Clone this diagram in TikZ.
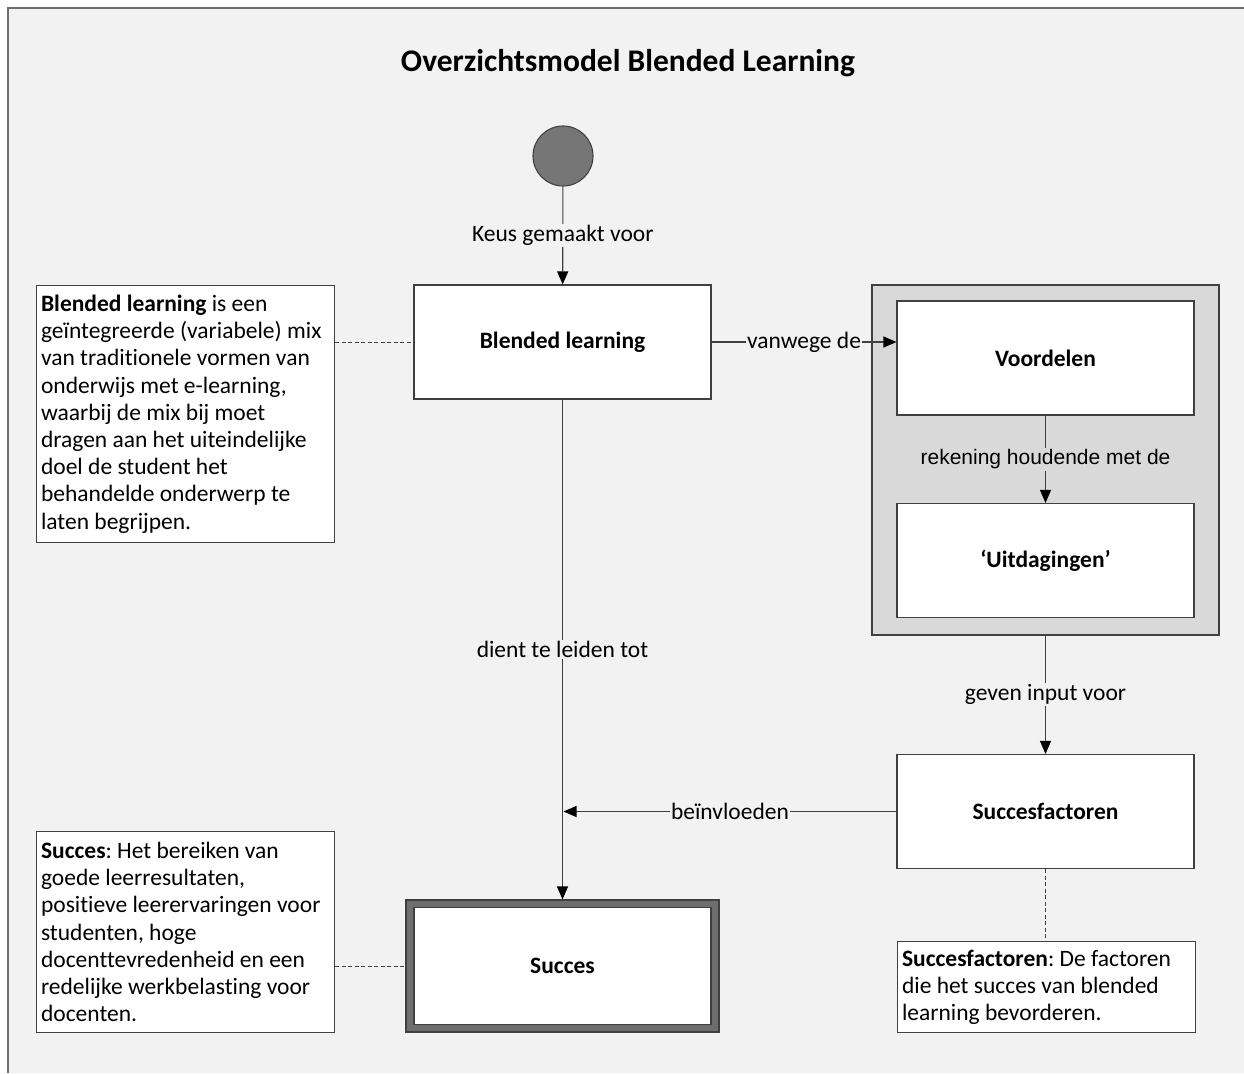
\documentclass[tikz,border=0pt]{standalone}
\usepackage{fontspec}
\setmainfont{Carlito}[Ligatures=NoCommon]
\newfontfamily\arialf{Liberation Sans}
\usetikzlibrary{arrows.meta,positioning}
\frenchspacing
\definecolor{bgc}{HTML}{F2F2F2}
\definecolor{cont}{HTML}{D9D9D9}
\definecolor{lnc}{HTML}{404040}
\definecolor{dot}{HTML}{767676}
\definecolor{band}{HTML}{6E6E6E}
\tikzset{
  box/.style={draw=lnc, line width=1.1pt, fill=white, minimum width=297pt, minimum height=114pt, font=\fontsize{23.5}{27.2}\selectfont\bfseries, inner sep=0pt},
  desc/.style={draw=lnc, line width=1.1pt, fill=white, text width=289pt, minimum width=297pt, align=flush left, anchor=north west, inner xsep=4.5pt, inner ysep=5pt, font=\fontsize{23.5}{27.2}\selectfont\frenchspacing},
  conn/.style={draw=lnc, line width=1.1pt},
  arr/.style={conn, -{Triangle[length=13pt,width=11pt,color=black]}},
  lbl/.style={fill=bgc, inner sep=1.5pt, font=\fontsize{23.5}{27}\selectfont},
  dsh/.style={draw=lnc, line width=0.9pt, dash pattern=on 4pt off 2.5pt}
}
\begin{document}
\begin{tikzpicture}[x=1pt,y=-1pt]
\useasboundingbox (0,0) rectangle (1244,1073);
\fill[white] (0,0) rectangle (1244,1073);
\fill[bgc] (8,8) rectangle (1244,1073);
\draw[draw=band, line width=2pt] (8,1073) -- (8,8) -- (1244,8);

\node[font=\fontsize{31.5}{36}\selectfont\bfseries] (title) at (628,63) {Overzichtsmodel Blended Learning};

% start circle
\node[circle, draw=lnc, line width=1.1pt, fill=dot, minimum size=60pt, inner sep=0pt] (start) at (563,156) {};

% container
\node[draw=lnc, line width=1.1pt, fill=cont, minimum width=347pt, minimum height=350pt, inner sep=0pt] (cont) at (1045.5,460) {};

\node[box] (bl) at (562.5,342) {Blended learning};
\node[box] (voor) at (1045.5,358) {Voordelen};
\node[box] (uit) at (1045.5,560.5) {‘Uitdagingen’};
\node[box] (sf) at (1045.5,811.5) {Succesfactoren};

% Succes box with thick band
\node[draw=lnc, line width=1.1pt, fill=band, minimum width=313pt, minimum height=132pt, inner sep=0pt] (succ) at (562.5,966) {};
\node[box, minimum height=117pt] (succin) at (succ.center) {Succes};

% description boxes
\node[desc, minimum height=257pt] (dbl) at (36,285) {\textbf{Blended learning} is een\\ geïntegreerde (variabele) mix\\ van traditionele vormen van\\ onderwijs met e-learning,\\ waarbij de mix bij moet\\ dragen aan het uiteindelijke\\ doel de student het\\ behandelde onderwerp te\\ laten begrijpen.};
\node[desc, minimum height=201pt] (dsu) at (36,831) {\textbf{Succes}: Het bereiken van\\ goede leerresultaten,\\ positieve leerervaringen voor\\ studenten, hoge\\ docenttevredenheid en een\\ redelijke werkbelasting voor\\ docenten.};
\node[desc, minimum height=91pt] (dsf) at (897,941) {\textbf{Succesfactoren}: De factoren\\ die het succes van blended\\ learning bevorderen.};

% connectors
\draw[arr] (start) -- node[lbl] {Keus gemaakt voor} (bl);
\draw[arr] (bl) -- node[lbl] {vanwege de} (voor.west |- bl.east);
\draw[arr] (voor) -- node[lbl, fill=cont, font=\arialf\fontsize{21}{25}\selectfont] {rekening houdende met de} (uit);
\draw[arr] (cont) -- node[lbl] {geven input voor} (sf);
\draw[arr] (bl) -- node[lbl, pos=0.5] {dient te leiden tot} (succ.north);
\coordinate (j) at (bl.south |- sf.west);
\draw[arr] (sf.west) -- node[lbl] {beïnvloeden} ([xshift=1pt]j);

% dashed links
\draw[dsh] (dbl.east |- bl.west) -- (bl.west);
\draw[dsh] (dsu.east |- succ.west) -- (succ.west);
\draw[dsh] (sf.south) -- (dsf.north -| sf.south);
\end{tikzpicture}
\end{document}
